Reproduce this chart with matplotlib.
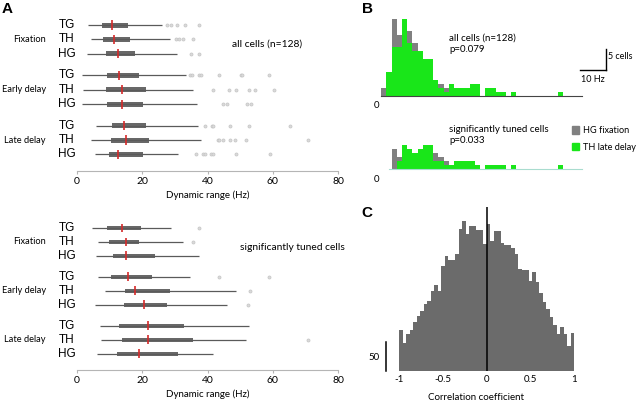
import numpy as np
import matplotlib
matplotlib.use('Agg')
import matplotlib.pyplot as plt
from matplotlib.patches import Patch

plt.rcParams['font.family'] = ['Lato', 'DejaVu Sans']

W, H = 640, 400


def rect(l, t, r, b):
    # pixel box (left, top, right, bottom) -> figure fraction
    return [l / W, 1 - b / H, (r - l) / W, (b - t) / H]


# ---------------- Panel A: dynamic range (Hz) ----------------
row_names = ['TG', 'TH', 'HG'] * 3
epochs = ['Fixation', 'Early delay', 'Late delay']
row_pos = [0, 1, 2, 3.5, 4.5, 5.5, 7, 8, 9]

# all cells (n=128)
all_whislo = [3.5, 4.3, 3.0, 1.5, 1.9, 1.5, 5.7, 4.3, 5.6]
all_q1 = [7.8, 8.0, 8.9, 9.2, 8.8, 9.1, 10.7, 10.4, 9.7]
all_med = [10.8, 11.4, 12.6, 12.9, 13.9, 13.9, 14.3, 14.9, 12.6]
all_q3 = [15.6, 16.3, 17.7, 18.9, 21.3, 20.2, 21.2, 22.2, 20.2]
all_whishi = [26.0, 28.5, 30.6, 33.4, 35.7, 36.7, 37.2, 37.9, 31.1]
all_fliers = [
    [27.5, 28.7, 30.8, 33.0, 37.4],
    [30.2, 31.3, 32.5, 35.6],
    [34.8, 37.3],
    [34.5, 35.3, 37.4, 38.0, 43.6, 50.2, 50.7, 58.8],
    [41.7, 46.7, 48.6, 52.8, 54.5, 60.5],
    [44.6, 45.9, 52.1, 53.3],
    [39.2, 41.3, 41.8, 47.0, 52.7, 65.4],
    [43.2, 43.6, 44.6, 47.0, 48.3, 51.8, 70.8],
    [36.4, 38.5, 39.1, 41.2, 41.8, 48.7, 59.3],
]

# significantly tuned cells
sig_whislo = [4.5, 6.5, 5.8, 6.5, 8.6, 5.6, 7.0, 7.5, 6.1]
sig_q1 = [9.2, 9.7, 10.9, 10.3, 14.8, 14.3, 12.9, 13.8, 12.2]
sig_med = [13.7, 14.9, 15.0, 15.6, 17.7, 20.4, 21.9, 21.7, 19.1]
sig_q3 = [19.6, 19.1, 24.0, 22.9, 28.4, 27.7, 32.8, 35.7, 31.0]
sig_whishi = [28.7, 32.6, 37.4, 34.5, 48.6, 45.9, 52.7, 51.9, 41.6]
sig_fliers = [[37.4], [35.6], [], [43.6, 58.9], [52.9], [52.4], [], [70.8], []]

# ---------------- Panel B: histograms, 2 Hz bins ----------------
b_edges = np.arange(0, 74, 2)
hg_fix_all = [0, 2, 5, 19, 15, 14, 16, 13, 10, 7, 7, 4, 3, 2, 2, 1, 2, 1, 1,
              0, 0, 0, 0, 0, 0, 0, 0, 0, 0, 0, 0, 0, 0, 0, 0, 0]
th_late_all = [0, 0, 6, 12, 12, 19, 13, 11, 11, 9, 9, 4, 2, 1, 3, 2, 2, 2, 3,
               3, 0, 2, 2, 1, 1, 0, 1, 0, 0, 0, 0, 0, 0, 0, 0, 1]
hg_fix_sig = [0, 0, 0, 5, 3, 4, 4, 4, 3, 4, 4, 4, 3, 2, 1, 1, 1, 1, 1,
              0, 0, 0, 0, 0, 0, 0, 0, 0, 0, 0, 0, 0, 0, 0, 0, 0]
th_late_sig = [0, 0, 0, 0, 2, 6, 5, 4, 5, 6, 6, 2, 2, 1, 1, 2, 2, 2, 2,
               1, 0, 1, 1, 1, 1, 0, 1, 0, 0, 0, 0, 0, 0, 0, 0, 1]

# ---------------- Panel C: correlation coefficients ----------------
c_edges = np.linspace(-1, 1, 51)
c_counts = [70, 49, 64, 70, 84, 95, 103, 116, 121, 138,
            148, 138, 182, 198, 192, 192, 202, 245, 259, 237,
            251, 251, 244, 244, 220, 254, 224, 241, 241, 221,
            218, 218, 213, 202, 176, 175, 175, 156, 171, 153,
            134, 119, 107, 93, 80, 64, 76, 64, 44, 66]

BOX = '#686868'
WHISK = '#5a5a5a'
RED = '#d42a2a'
GRAY_B = '#808080'
GREEN_B = '#19e619'
GRAY_C = '#6b6b6b'

fig = plt.figure(figsize=(6.4, 4.0), dpi=100)


def draw_boxes(ax, whislo, q1, med, q3, whishi, fliers, note, note_xy):
    ax.hlines(row_pos, whislo, whishi, color=WHISK, lw=0.9)
    ax.barh(row_pos, np.subtract(q3, q1), left=q1, height=0.34, color=BOX, lw=0)
    ax.vlines(med, np.subtract(row_pos, 0.32), np.add(row_pos, 0.32), color=RED, lw=1.2)
    for p, fl in zip(row_pos, fliers):
        ax.plot(fl, [p] * len(fl), 'o', ms=2.2, mfc='#dadada', mec='#c4c4c4', mew=0.5)
    ax.set_xlim(0, 80)
    ax.set_ylim(10.15, -1)
    ax.set_xticks([0, 20, 40, 60, 80])
    ax.set_yticks([])
    for s in ['top', 'right', 'left']:
        ax.spines[s].set_visible(False)
    ax.spines['bottom'].set_color('#b5b5b5')
    ax.spines['bottom'].set_linewidth(0.8)
    ax.tick_params(axis='x', colors='#b5b5b5', labelcolor='black', labelsize=7.5,
                   length=2.5, width=0.8, pad=2)
    ax.set_xlabel('Dynamic range (Hz)', fontsize=7, labelpad=3)
    tr = ax.get_yaxis_transform()
    for p, name in zip(row_pos, row_names):
        ax.text(-0.038, p, name, transform=tr, ha='center', va='center',
                fontsize=8.5, family=['Liberation Sans'])
    for i, ep in enumerate(epochs):
        ax.text(-0.119, row_pos[3 * i + 1], ep, transform=tr, ha='right',
                va='center', fontsize=6.7)
    fig.text(note_xy[0] / W, 1 - note_xy[1] / H, note, fontsize=7.4, va='center')


axA1 = fig.add_axes(rect(77, 10.7, 338, 171))
draw_boxes(axA1, all_whislo, all_q1, all_med, all_q3, all_whishi, all_fliers,
           'all cells (n=128)', (232, 44))
axA2 = fig.add_axes(rect(77, 214, 338, 370))
draw_boxes(axA2, sig_whislo, sig_q1, sig_med, sig_q3, sig_whishi, sig_fliers,
           'significantly tuned cells', (240, 248))

# Panel B
axB1 = fig.add_axes(rect(376, 14.6, 584, 96))
axB1.bar(b_edges[:-1], hg_fix_all, width=2, align='edge', color=GRAY_B, lw=0)
axB1.bar(b_edges[:-1], th_late_all, width=2, align='edge', color=GREEN_B, lw=0)
axB1.set_xlim(0, 80)
axB1.set_ylim(0, 20)
axB1.set_xticks([])
axB1.set_yticks([])
for s in ['top', 'right', 'left']:
    axB1.spines[s].set_visible(False)
axB1.spines['bottom'].set_bounds(2, 79.2)
axB1.spines['bottom'].set_color('#444444')
# scale bar: 10 Hz x 5 cells
axB1.plot([78.5, 88.5], [6.4, 6.4], color='black', lw=1, clip_on=False)
axB1.plot([88.5, 88.5], [6.4, 11.5], color='black', lw=1, clip_on=False)
axB1.text(89.3, 9.7, '5 cells', fontsize=6.5, va='center', ha='left')
axB1.text(83.5, 5.2, '10 Hz', fontsize=6.5, va='top', ha='center')
fig.text(449 / W, 1 - 44 / H, 'all cells (n=128)\np=0.079', fontsize=7,
         va='center', linespacing=1.35)
fig.text(376 / W, 1 - 105 / H, '0', fontsize=7, ha='center', va='center')

axB2 = fig.add_axes(rect(376, 136.4, 584, 169))
axB2.bar(b_edges[:-1], hg_fix_sig, width=2, align='edge', color=GRAY_B, lw=0)
axB2.bar(b_edges[:-1], th_late_sig, width=2, align='edge', color=GREEN_B, lw=0)
axB2.set_xlim(0, 80)
axB2.set_ylim(0, 8)
axB2.set_xticks([])
axB2.set_yticks([])
for s in ['top', 'right', 'left']:
    axB2.spines[s].set_visible(False)
axB2.spines['bottom'].set_bounds(5, 79.2)
axB2.spines['bottom'].set_color('#a9dccf')
fig.text(449 / W, 1 - 135 / H, 'significantly tuned cells\np=0.033', fontsize=7,
         va='center', linespacing=1.35)
fig.text(376 / W, 1 - 180 / H, '0', fontsize=7, ha='center', va='center')

fig.legend([Patch(color=GRAY_B), Patch(color=GREEN_B)],
           ['HG fixation', 'TH late delay'], loc='upper left',
           bbox_to_anchor=(572 / W, 1 - 126 / H), frameon=False, fontsize=6.6,
           handlelength=0.8, handleheight=0.9, handletextpad=0.45,
           labelspacing=0.85, borderpad=0, borderaxespad=0)

# Panel C
axC = fig.add_axes(rect(368.4, 207, 582.8, 371))
axC.bar(c_edges[:-1], c_counts, width=0.04, align='edge', color=GRAY_C, lw=0)
axC.axvline(0, color='black', lw=1.1)
axC.plot([-1.15, -1.15], [0, 50], color='black', lw=1.1, clip_on=False)
axC.text(-1.29, 24, '50', fontsize=7, ha='center', va='center')
axC.set_xlim(-1.35, 1.1)
axC.set_ylim(0, 283)
axC.set_xticks([-1, -0.5, 0, 0.5, 1])
axC.set_xticklabels(['-1', '-0.5', '0', '0.5', '1'])
axC.set_yticks([])
for s in axC.spines.values():
    s.set_visible(False)
axC.tick_params(axis='x', length=0, labelsize=7, pad=3)
axC.set_xlabel('Correlation coefficient', fontsize=7, labelpad=6)

for letter, (x, y) in zip(['A', 'B', 'C'], [(2, 2), (362, 2), (361, 206)]):
    fig.text(x / W, 1 - y / H, letter, fontsize=11, weight='bold', va='top',
             family=['Liberation Sans'])

fig.savefig('out.png', dpi=100)
